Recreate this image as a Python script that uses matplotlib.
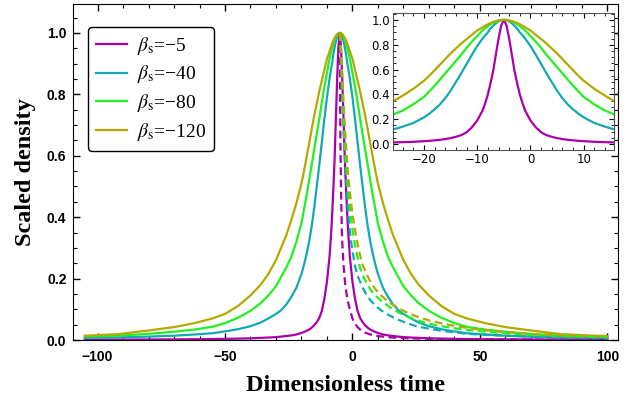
import numpy as np
import matplotlib
matplotlib.use("Agg")
import matplotlib.pyplot as plt
from matplotlib.ticker import MultipleLocator

plt.rcParams["mathtext.fontset"] = "stix"
plt.rcParams["axes.unicode_minus"] = True

# values
betas = ["-5", "-40", "-80", "-120"]
colors = ["#AA00AA", "#12A9B5", "#22F022", "#B5A800"]

# solid curves, common time grid
t_solid = [-105, -92, -80, -70, -62, -55, -50, -45, -40, -36, -33, -30, -28, -26,
           -24, -22, -20, -19, -18, -17, -16, -15, -14, -13, -12, -11, -10, -9,
           -8.5, -8, -7.5, -7, -6.5, -6, -5.5, -5,
           -4.5, -4, -3.5, -3, -2.5, -2, -1.5, -1, 0, 1, 2, 3, 4, 5, 6, 7, 8, 9,
           10, 12, 14, 16, 18, 20, 23, 26, 30, 35, 40, 45, 52, 60, 70, 82, 95, 100]
rho_m5 = [0.001, 0.0013, 0.0017, 0.002, 0.0025, 0.003, 0.0038, 0.0045, 0.0055,
          0.007, 0.008, 0.0095, 0.011, 0.013, 0.015, 0.018, 0.023, 0.026, 0.030,
          0.034, 0.040, 0.048, 0.058, 0.072, 0.095, 0.135, 0.19, 0.27, 0.33, 0.40,
          0.49, 0.59, 0.72, 0.85, 0.955, 1.0,
          0.955, 0.85, 0.72, 0.59, 0.49, 0.40, 0.33, 0.27, 0.19, 0.135, 0.095,
          0.072, 0.058, 0.048, 0.040, 0.034, 0.030, 0.026, 0.023, 0.018, 0.015,
          0.013, 0.011, 0.0095, 0.008, 0.007, 0.0055, 0.0045, 0.0038, 0.003,
          0.0025, 0.002, 0.0017, 0.0013, 0.001, 0.001]
rho_m40 = [0.007, 0.0085, 0.011, 0.014, 0.018, 0.022, 0.028, 0.035, 0.045, 0.057,
           0.07, 0.085, 0.097, 0.115, 0.14, 0.17, 0.215, 0.245, 0.28, 0.32, 0.37,
           0.43, 0.50, 0.57, 0.645, 0.72, 0.79, 0.85, 0.876, 0.90, 0.93, 0.953,
           0.973, 0.988, 0.997, 1.0,
           0.997, 0.988, 0.973, 0.953, 0.93, 0.90, 0.876, 0.85, 0.79, 0.72, 0.645,
           0.57, 0.50, 0.43, 0.37, 0.32, 0.28, 0.245, 0.215, 0.17, 0.14, 0.115,
           0.097, 0.085, 0.07, 0.057, 0.045, 0.035, 0.028, 0.022, 0.018, 0.014,
           0.011, 0.0085, 0.007, 0.0065]
rho_m80 = [0.011, 0.014, 0.02, 0.027, 0.034, 0.043, 0.055, 0.072, 0.095, 0.12,
           0.145, 0.175, 0.205, 0.235, 0.27, 0.32, 0.38, 0.425, 0.47, 0.52, 0.57,
           0.62, 0.67, 0.72, 0.775, 0.825, 0.87, 0.915, 0.933, 0.95, 0.965, 0.978,
           0.987, 0.994, 0.998, 1.0,
           0.998, 0.994, 0.987, 0.978, 0.965, 0.95, 0.933, 0.915, 0.87, 0.825,
           0.775, 0.72, 0.67, 0.62, 0.57, 0.52, 0.47, 0.425, 0.38, 0.32, 0.27,
           0.235, 0.205, 0.175, 0.145, 0.12, 0.095, 0.072, 0.055, 0.043, 0.034,
           0.027, 0.02, 0.014, 0.011, 0.01]
rho_m120 = [0.014, 0.019, 0.031, 0.042, 0.055, 0.07, 0.085, 0.11, 0.145, 0.18,
            0.215, 0.26, 0.30, 0.34, 0.39, 0.445, 0.51, 0.55, 0.595, 0.64, 0.685,
            0.73, 0.77, 0.81, 0.845, 0.88, 0.915, 0.94, 0.953, 0.965, 0.975, 0.984,
            0.99, 0.996, 0.999, 1.0,
            0.999, 0.996, 0.99, 0.984, 0.975, 0.965, 0.953, 0.94, 0.915, 0.88,
            0.845, 0.81, 0.77, 0.73, 0.685, 0.64, 0.595, 0.55, 0.51, 0.445, 0.39,
            0.34, 0.30, 0.26, 0.215, 0.18, 0.145, 0.11, 0.085, 0.07, 0.055, 0.042,
            0.031, 0.019, 0.014, 0.013]

# dashed curves, right side of the peak only
t_dash = [-5, -4.9, -4.8, -4.7, -4.5, -4.2, -4, -3.5, -3, -2.5, -2, -1.5, -1, 0,
          1, 2, 3, 4, 5, 7, 9, 11, 13, 15, 18, 21, 25, 30, 35, 40, 45, 52, 60, 70,
          82, 100]
dash_m5 = [1.0, 0.90, 0.75, 0.64, 0.50, 0.37, 0.32, 0.245, 0.195, 0.16, 0.135,
           0.115, 0.10, 0.07, 0.053, 0.042, 0.034, 0.028, 0.024, 0.018, 0.014,
           0.012, 0.010, 0.0085, 0.007, 0.006, 0.005, 0.004, 0.0033, 0.0028,
           0.0024, 0.002, 0.0017, 0.0014, 0.0012, 0.001]
dash_m40 = [1.0, 0.97, 0.95, 0.93, 0.90, 0.83, 0.78, 0.68, 0.60, 0.53, 0.46, 0.40,
            0.35, 0.29, 0.24, 0.21, 0.19, 0.17, 0.155, 0.13, 0.112, 0.098, 0.087,
            0.078, 0.066, 0.056, 0.045, 0.037, 0.03, 0.025, 0.02, 0.017, 0.014,
            0.011, 0.008, 0.005]
dash_m80 = [1.0, 0.99, 0.975, 0.96, 0.94, 0.87, 0.83, 0.72, 0.64, 0.58, 0.52, 0.47,
            0.43, 0.36, 0.31, 0.27, 0.235, 0.21, 0.195, 0.165, 0.145, 0.13, 0.117,
            0.105, 0.09, 0.078, 0.065, 0.053, 0.045, 0.038, 0.033, 0.027, 0.022,
            0.017, 0.013, 0.009]
dash_m120 = [1.0, 0.993, 0.985, 0.975, 0.95, 0.90, 0.86, 0.78, 0.70, 0.63, 0.57,
             0.52, 0.48, 0.41, 0.36, 0.315, 0.275, 0.245, 0.225, 0.19, 0.165, 0.147,
             0.132, 0.12, 0.104, 0.091, 0.077, 0.064, 0.054, 0.046, 0.039, 0.032,
             0.026, 0.02, 0.015, 0.012]

solid = [rho_m5, rho_m40, rho_m80, rho_m120]
dashed = [dash_m5, dash_m40, dash_m80, dash_m120]

fig = plt.figure(figsize=(6.41, 4.03), dpi=100)
ax = fig.add_axes([0.1144, 0.1563, 0.8502, 0.8337])

for b, c, y in zip(betas, colors, solid):
    ax.plot(t_solid, y, color=c, lw=1.6,
            label=r"$\beta_{\mathrm{s}}$=" + "\u2212" + b[1:])
for c, y in zip(colors, dashed):
    ax.plot(t_dash, y, color=c, lw=1.6, ls=(0, (3.5, 2)))

ax.set_xlim(-109.5, 104.3)
ax.set_ylim(0, 1.094)
ax.xaxis.set_major_locator(MultipleLocator(50))
ax.xaxis.set_minor_locator(MultipleLocator(10))
ax.yaxis.set_major_locator(MultipleLocator(0.2))
ax.yaxis.set_minor_locator(MultipleLocator(0.05))
ax.yaxis.set_major_formatter(plt.FuncFormatter(lambda v, p: f"{v:.1f}"))
ax.tick_params(which="both", direction="in", top=True, right=True)
ax.tick_params(which="major", length=5, width=1)
ax.tick_params(which="minor", length=3, width=0.8)
ax.tick_params(axis="x", which="major", pad=7)
ax.tick_params(axis="y", which="major", pad=5)
for lab in ax.get_xticklabels() + ax.get_yticklabels():
    lab.set_fontfamily("Liberation Sans")
    lab.set_fontweight("bold")
    lab.set_fontsize(10)

ax.set_xlabel("Dimensionless time", family="Liberation Serif",
              fontweight="bold", fontsize=17.5, labelpad=8)
ax.set_ylabel("Scaled density", family="Liberation Serif",
              fontweight="bold", fontsize=17.5, labelpad=8)

leg = ax.legend(loc="upper left", bbox_to_anchor=(0.027, 0.932),
                borderaxespad=0, fancybox=True, framealpha=1,
                edgecolor="black", handlelength=1.6, handletextpad=0.5,
                labelspacing=0.35, prop={"family": "Liberation Serif", "size": 14})
leg.get_frame().set_linewidth(1.0)

# inset zoom on the peak
ins = fig.add_axes([0.6126, 0.6278, 0.3452, 0.3392])
t_arr = np.array(t_solid)
mask = (t_arr >= -26) & (t_arr <= 16)
for c, y in zip(colors, solid):
    ins.plot(t_arr[mask], np.array(y)[mask], color=c, lw=1.6)
ins.set_xlim(-25.9, 15.7)
ins.set_ylim(-0.048, 1.053)
ins.xaxis.set_major_locator(MultipleLocator(10))
ins.xaxis.set_minor_locator(MultipleLocator(2))
ins.yaxis.set_major_locator(MultipleLocator(0.2))
ins.yaxis.set_minor_locator(MultipleLocator(0.05))
ins.yaxis.set_major_formatter(plt.FuncFormatter(lambda v, p: f"{v:.1f}"))
ins.tick_params(which="both", direction="in", top=True, right=True, labelsize=8.5)
ins.tick_params(which="major", length=3.5, width=0.8, pad=2)
ins.tick_params(which="minor", length=2, width=0.6)
for s in ins.spines.values():
    s.set_color("#555555")

fig.savefig("out.png", dpi=100)
